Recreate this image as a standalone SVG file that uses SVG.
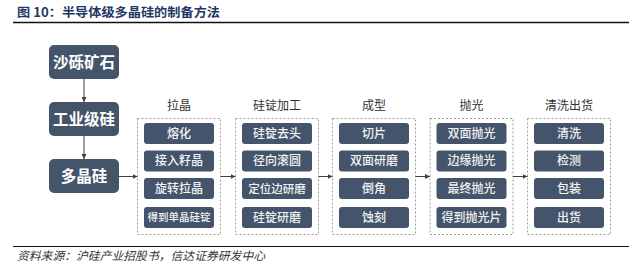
<svg xmlns="http://www.w3.org/2000/svg" width="640" height="269" viewBox="0 0 640 269">
<defs>
<marker id="ah" viewBox="0 0 6 6" refX="6" refY="3" markerWidth="5" markerHeight="5" orient="auto" markerUnits="userSpaceOnUse">
<path d="M0,0 L6,3 L0,6 z" fill="#404040"/>
</marker>
<style>
.cjk{font-family:"Noto Sans CJK SC","Noto Sans",sans-serif;}
.big{fill:#44546A;}
.bigt{fill:#fff;font-size:15.5px;font-weight:700;text-anchor:middle;}
.box{fill:#44546A;}
.boxt{fill:#F2F2F2;font-size:12px;font-weight:500;text-anchor:middle;}
.frame{fill:none;stroke:#9A9A9A;stroke-width:1;stroke-dasharray:2 2;}
.ct{fill:#333;font-size:12px;text-anchor:middle;}
.conn{stroke:#404040;stroke-width:1;fill:none;marker-end:url(#ah);}
</style>
</defs>
<rect width="640" height="269" fill="#fff"/>
<text class="cjk" x="17" y="17" font-size="12.5" font-weight="700" fill="#1F3864" textLength="203" lengthAdjust="spacingAndGlyphs">图 10：半导体级多晶硅的制备方法</text>
<line x1="13" y1="22.5" x2="629" y2="22.5" stroke="#111" stroke-width="1.6"/>

<g id="n-shali">
<rect class="big" x="49" y="45" width="70" height="34" rx="5"/>
<text class="cjk bigt" x="84" y="67.5">沙砾矿石</text>
</g>
<g id="n-gongye">
<rect class="big" x="49" y="102" width="70" height="34" rx="5"/>
<text class="cjk bigt" x="84" y="124.5">工业级硅</text>
</g>
<g id="n-duojing">
<rect class="big" x="49" y="159" width="70" height="34" rx="5"/>
<text class="cjk bigt" x="84" y="181.5">多晶硅</text>
</g>

<g id="c-lajing">
<text class="cjk ct" x="179" y="110">拉晶</text>
<rect class="frame" x="137.5" y="118.5" width="83" height="116"/>
<rect class="box" x="144" y="123" width="70" height="21" rx="3"/>
<text class="cjk boxt" x="179" y="137.5">熔化</text>
<rect class="box" x="144" y="150.5" width="70" height="21" rx="3"/>
<text class="cjk boxt" x="179" y="165">接入籽晶</text>
<rect class="box" x="144" y="178" width="70" height="21" rx="3"/>
<text class="cjk boxt" x="179" y="192.5">旋转拉晶</text>
<rect class="box" x="144" y="207" width="70" height="21" rx="3"/>
<text class="cjk boxt" x="179" y="221.2" style="font-size:10.5px">得到单晶硅锭</text>
</g>

<g id="c-guiding">
<text class="cjk ct" x="277" y="110">硅锭加工</text>
<rect class="frame" x="235.5" y="118.5" width="83" height="116"/>
<rect class="box" x="242" y="123" width="70" height="21" rx="3"/>
<text class="cjk boxt" x="277" y="137.5">硅锭去头</text>
<rect class="box" x="242" y="150.5" width="70" height="21" rx="3"/>
<text class="cjk boxt" x="277" y="165">径向滚圆</text>
<rect class="box" x="242" y="178" width="70" height="21" rx="3"/>
<text class="cjk boxt" x="277" y="192.5" style="font-size:11.5px">定位边研磨</text>
<rect class="box" x="242" y="207" width="70" height="21" rx="3"/>
<text class="cjk boxt" x="277" y="221.5">硅锭研磨</text>
</g>

<g id="c-chengxing">
<text class="cjk ct" x="374" y="110">成型</text>
<rect class="frame" x="332.5" y="118.5" width="83" height="116"/>
<rect class="box" x="339" y="123" width="70" height="21" rx="3"/>
<text class="cjk boxt" x="374" y="137.5">切片</text>
<rect class="box" x="339" y="150.5" width="70" height="21" rx="3"/>
<text class="cjk boxt" x="374" y="165">双面研磨</text>
<rect class="box" x="339" y="178" width="70" height="21" rx="3"/>
<text class="cjk boxt" x="374" y="192.5">倒角</text>
<rect class="box" x="339" y="207" width="70" height="21" rx="3"/>
<text class="cjk boxt" x="374" y="221.5">蚀刻</text>
</g>

<g id="c-paoguang">
<text class="cjk ct" x="471.5" y="110">抛光</text>
<rect class="frame" x="430" y="118.5" width="83" height="116"/>
<rect class="box" x="436.5" y="123" width="70" height="21" rx="3"/>
<text class="cjk boxt" x="471.5" y="137.5">双面抛光</text>
<rect class="box" x="436.5" y="150.5" width="70" height="21" rx="3"/>
<text class="cjk boxt" x="471.5" y="165">边缘抛光</text>
<rect class="box" x="436.5" y="178" width="70" height="21" rx="3"/>
<text class="cjk boxt" x="471.5" y="192.5">最终抛光</text>
<rect class="box" x="436.5" y="207" width="70" height="21" rx="3"/>
<text class="cjk boxt" x="471.5" y="221.5">得到抛光片</text>
</g>

<g id="c-qingxi">
<text class="cjk ct" x="569" y="110">清洗出货</text>
<rect class="frame" x="527.5" y="118.5" width="83" height="116"/>
<rect class="box" x="534" y="123" width="70" height="21" rx="3"/>
<text class="cjk boxt" x="569" y="137.5">清洗</text>
<rect class="box" x="534" y="150.5" width="70" height="21" rx="3"/>
<text class="cjk boxt" x="569" y="165">检测</text>
<rect class="box" x="534" y="178" width="70" height="21" rx="3"/>
<text class="cjk boxt" x="569" y="192.5">包装</text>
<rect class="box" x="534" y="207" width="70" height="21" rx="3"/>
<text class="cjk boxt" x="569" y="221.5">出货</text>
</g>

<g id="connectors">
<line class="conn" x1="84" y1="79" x2="84" y2="102"/>
<line class="conn" x1="84" y1="136" x2="84" y2="159"/>
<line class="conn" x1="119" y1="176.5" x2="137.5" y2="176.5"/>
<line class="conn" x1="220.5" y1="176.5" x2="235.5" y2="176.5"/>
<line class="conn" x1="318.5" y1="176.5" x2="332.5" y2="176.5"/>
<line class="conn" x1="415.5" y1="176.5" x2="430" y2="176.5"/>
<line class="conn" x1="513" y1="176.5" x2="527.5" y2="176.5"/>
</g>

<line x1="13" y1="246.5" x2="629" y2="246.5" stroke="#111" stroke-width="1"/>
<text x="17" y="260" font-size="11.5" font-style="italic" fill="#333" textLength="248" lengthAdjust="spacingAndGlyphs" style="font-family:'Noto Sans CJK SC','Noto Sans',sans-serif">资料来源：沪硅产业招股书，信达证券研发中心</text>
</svg>
